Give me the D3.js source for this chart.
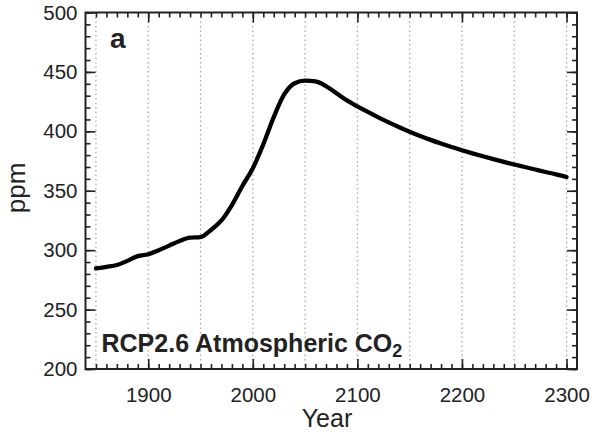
<!DOCTYPE html>
<html>
<head>
<meta charset="utf-8">
<script src="https://cdn.jsdelivr.net/npm/d3@7"></script>
<style>
html,body{margin:0;padding:0;background:#fff;}
svg{display:block;font-family:"Liberation Sans",Arial,Helvetica,sans-serif;}
</style>
</head>
<body>
<svg id="chart" width="592" height="432"></svg>
<script>
// Data (RCP2.6 atmospheric CO2, ppm)
const years = [1850,1860,1870,1880,1890,1900,1910,1920,1930,1940,1950,1960,1970,1980,1990,
  2000,2010,2020,2030,2040,2050,2060,2070,2080,2090,2100,2110,2120,2130,2140,2150,2160,2170,
  2180,2190,2200,2210,2220,2230,2240,2250,2260,2270,2280,2290,2300];
const co2 = [284.7,286,287.5,291,295,296.6,300,303.8,307.8,310.5,311,317,325,338,354,
  369,389,412,431,440.5,442.7,442,438,432,426,421,416.3,411.8,407.5,403.4,399.6,396.1,392.8,
  389.7,386.8,384.1,381.5,379,376.6,374.3,372.1,370,367.9,365.8,363.8,361.6];
const xMajorTicks = [1900,2000,2100,2200,2300];
const yMajorTicks = [200,250,300,350,400,450,500];
const gridYears = [1850,1900,1950,2000,2050,2100,2150,2200,2250,2300];
const panelLabel = "a";
const titleMain = "RCP2.6 Atmospheric CO";
const titleSub = "2";
const xTitle = "Year";
const yTitle = "ppm";

const svg = d3.select("#chart");
const L = 85.5, R = 577, T = 12.5, B = 369;
const x = d3.scaleLinear().domain([1840, 2310]).range([L, R]);
const y = d3.scaleLinear().domain([200, 500]).range([B, T]);
const xMinor = d3.range(1850, 2301, 10);
const yMinor = d3.range(200, 501, 10);

// dotted grid
svg.append("g").selectAll("line").data(gridYears).join("line")
  .attr("x1", d => x(d)).attr("x2", d => x(d))
  .attr("y1", T).attr("y2", B)
  .attr("stroke", "#a8a8a8").attr("stroke-width", 1.3)
  .attr("stroke-dasharray", "1.5,3");

// ticks
function styleAxis(g){
  g.select(".domain").remove();
  g.selectAll(".tick line").attr("stroke", "#222").attr("stroke-width", 1.6);
  g.selectAll("text").attr("fill", "#222").attr("font-size", 20.5);
}
svg.append("g").attr("transform", `translate(0,${B})`)
  .call(d3.axisBottom(x).tickValues(xMinor).tickSize(-5).tickFormat(""))
  .call(styleAxis);
svg.append("g").attr("transform", `translate(0,${B})`)
  .call(d3.axisBottom(x).tickValues(xMajorTicks).tickSize(-10).tickPadding(18).tickFormat(d3.format("d")))
  .call(styleAxis);
svg.append("g").attr("transform", `translate(0,${T})`)
  .call(d3.axisTop(x).tickValues(xMinor).tickSize(-5).tickFormat(""))
  .call(styleAxis);
svg.append("g").attr("transform", `translate(0,${T})`)
  .call(d3.axisTop(x).tickValues(xMajorTicks).tickSize(-10).tickFormat(""))
  .call(styleAxis);
svg.append("g").attr("transform", `translate(${L},0)`)
  .call(d3.axisLeft(y).tickValues(yMinor).tickSize(-5).tickFormat(""))
  .call(styleAxis);
svg.append("g").attr("transform", `translate(${L},0)`)
  .call(d3.axisLeft(y).tickValues(yMajorTicks).tickSize(-10).tickPadding(8).tickFormat(d3.format("d")))
  .call(styleAxis);
svg.append("g").attr("transform", `translate(${R},0)`)
  .call(d3.axisRight(y).tickValues(yMinor).tickSize(-5).tickFormat(""))
  .call(styleAxis);
svg.append("g").attr("transform", `translate(${R},0)`)
  .call(d3.axisRight(y).tickValues(yMajorTicks).tickSize(-10).tickFormat(""))
  .call(styleAxis);

// the frame
svg.append("rect").attr("x", L).attr("y", T).attr("width", R - L).attr("height", B - T)
  .attr("fill", "none").attr("stroke", "#222").attr("stroke-width", 2);

// curve
svg.append("path").datum(co2)
  .attr("d", d3.line().x((d, i) => x(years[i])).y(d => y(d)).curve(d3.curveMonotoneX))
  .attr("fill", "none").attr("stroke", "#000").attr("stroke-width", 4.3)
  .attr("stroke-linejoin", "round").attr("stroke-linecap", "round");

// texts
svg.append("text").attr("x", 110).attr("y", 48).attr("font-size", 28).attr("font-weight", "bold")
  .attr("fill", "#222").text(panelLabel);
const t = svg.append("text").attr("x", 101.5).attr("y", 351.5).attr("font-size", 25)
  .attr("font-weight", "bold").attr("fill", "#222");
t.append("tspan").text(titleMain);
t.append("tspan").attr("font-size", 18).attr("dy", 5).text(titleSub);
svg.append("text").attr("x", 327).attr("y", 427).attr("text-anchor", "middle")
  .attr("font-size", 25).attr("fill", "#222").text(xTitle);
svg.append("text").attr("transform", "translate(25,188) rotate(-90)").attr("text-anchor", "middle")
  .attr("font-size", 26).attr("fill", "#222").text(yTitle);
</script>
</body>
</html>
